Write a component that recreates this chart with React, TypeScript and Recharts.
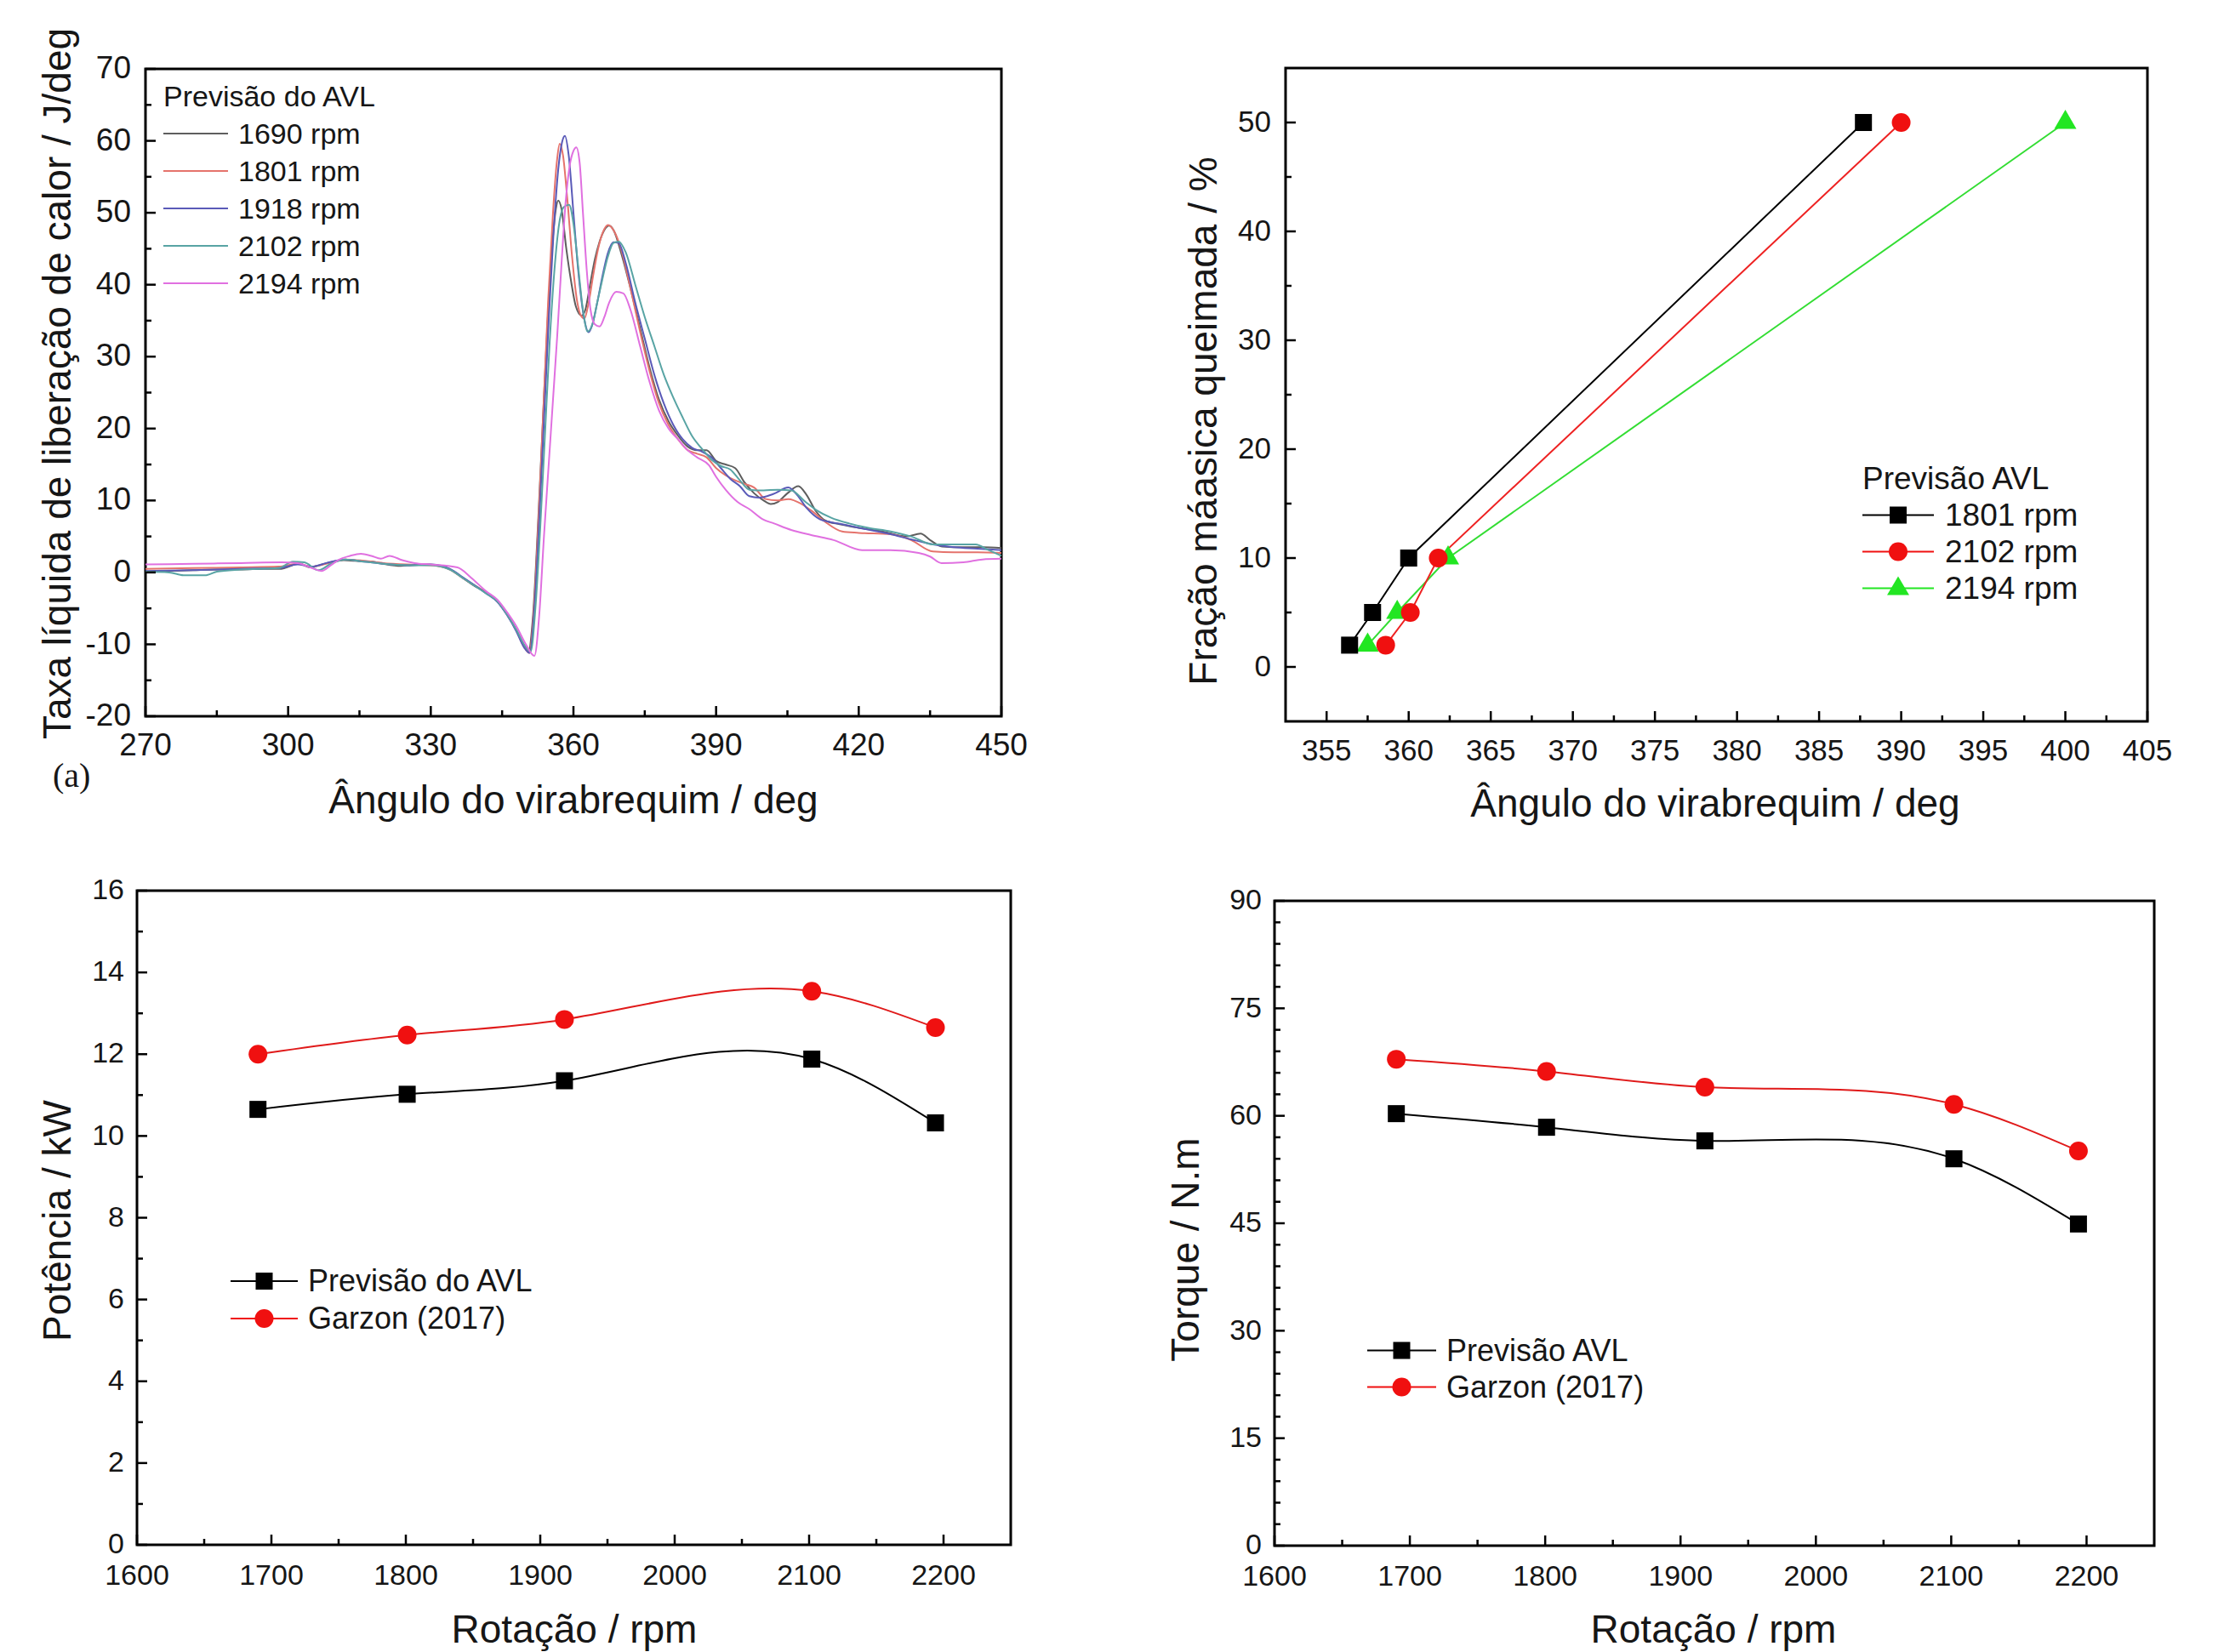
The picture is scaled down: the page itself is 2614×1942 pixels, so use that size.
import React from "react";
import { LineChart, Line, XAxis, YAxis, ReferenceArea } from "recharts";

const SANS = "'Liberation Sans', Arial, Helvetica, sans-serif";
const INK = "#161616";

// ---------- (a) heat release rate vs crank angle ----------
const angleMajors = [270, 300, 330, 360, 390, 420, 450];
const angleTicks = [270, 285, 300, 315, 330, 345, 360, 375, 390, 405, 420, 435, 450];
const hrrMajors = [-20, -10, 0, 10, 20, 30, 40, 50, 60, 70];
const hrrTicks = [-20, -15, -10, -5, 0, 5, 10, 15, 20, 25, 30, 35, 40, 45, 50, 55, 60, 65, 70];

const hrr1690 = [
  [270, 0.1], [275, 0.2], [280, 0.3], [285, 0.4], [290, 0.4], [295, 0.5], [298.6, 0.5], [300.5, 0.9],
  [302.2, 1.3], [304.6, 0.7], [306, 0.9], [308.2, 1.3], [311.7, 1.7], [314, 1.6], [317.7, 1.5], [320, 1.2],
  [323.7, 0.9], [326, 1.0], [329.6, 1.1], [333.8, 0.5], [336.8, -0.8], [339, -1.8], [341.6, -2.8], [344, -4.0],
  [346, -5.8], [348, -8.0], [349.5, -10.0], [350.5, -11.0], [351.5, -6], [352.5, 6], [353.5, 20], [354.5, 34],
  [355.5, 45], [356.3, 50.5], [356.8, 51.7], [357.5, 50.5], [358.5, 45], [359.5, 40.5], [360.5, 37], [361.7, 35.7],
  [362.5, 36.5], [363.5, 40], [364.5, 43.5], [365.5, 46], [366.5, 47.6], [367.5, 48.2], [368.5, 47.5], [370, 44.5],
  [372, 39.5], [374, 34], [376, 28.5], [378, 24], [380, 21], [382, 19], [384, 17.5], [386, 17], [388, 17],
  [390, 15.5], [392, 15], [394, 14.5], [396, 12.5], [398, 11], [400, 10], [401.5, 9.5], [403, 9.8], [405, 11],
  [407.3, 12], [409, 10.8], [411, 8.5], [413, 7.2], [416, 6.7], [420, 6.2], [425, 5.7], [430, 5.0], [433, 5.4],
  [435, 4.5], [437.5, 3.6], [442, 3.5], [446, 3.5], [450, 3.4],
];
const hrr1801 = [
  [270, 0.5], [280, 0.6], [290, 0.7], [298, 0.8], [302, 1.2], [305, 0.8], [308, 1.2], [312, 1.8], [316, 1.6],
  [320, 1.3], [325, 1.1], [330, 1.0], [334, 0.4], [337, -0.9], [341.6, -2.8], [344, -4.0], [346, -5.8], [348, -8.1],
  [349.5, -10.2], [350.7, -11.2], [351.7, -5], [352.7, 8], [353.7, 23], [354.7, 38], [355.7, 50], [356.5, 57],
  [357.1, 59.6], [357.8, 58], [358.7, 52], [359.7, 44], [360.7, 38], [361.5, 35.8], [362.3, 35.3], [363.2, 37.5],
  [364.2, 41.5], [365.2, 45], [366.2, 47.3], [367.3, 48.3], [368.5, 47.5], [370, 45], [372, 39.5], [374, 33.5],
  [376, 28], [378, 23.5], [380, 20.5], [382, 18.5], [384, 17], [386, 16.5], [388, 16], [390, 14.5], [392, 13.5],
  [394, 12.8], [396, 12.3], [398, 11.8], [400.4, 10.2], [403, 10], [405.2, 10.2], [408, 9.5], [410, 8.6], [413, 7],
  [416.5, 5.7], [420, 5.5], [426.7, 5.3], [431, 4.5], [435.6, 2.9], [440, 2.8], [445, 2.8], [450, 2.7],
];
const hrr1918 = [
  [270, 0.2], [280, 0.3], [290, 0.5], [298, 0.6], [302, 1.1], [305, 0.8], [308, 1.3], [312, 1.8], [316, 1.5],
  [320, 1.2], [325, 1.0], [330, 1.1], [334, 0.5], [337, -0.8], [341.6, -2.9], [344, -4.1], [346, -5.9], [348, -8.2],
  [349.5, -10.3], [350.8, -11.2], [351.8, -5], [352.8, 7], [353.8, 21], [354.8, 35], [355.8, 47], [356.8, 56],
  [357.6, 59.8], [358.2, 60.7], [359, 58], [360, 50], [361, 42], [362.2, 35.5], [363.2, 33.4], [364, 34.5],
  [365, 37.5], [366.2, 41.5], [367.2, 44.3], [368.4, 45.9], [369.5, 45.8], [371, 43], [373, 37.5], [375, 32.5],
  [377, 27.5], [379, 23.5], [381, 20.5], [383, 18.5], [385, 17.3], [387, 16.8], [389, 16], [391, 14.5], [393, 13],
  [395, 12], [397, 10.6], [399, 10.4], [402, 10.9], [405.2, 11.8], [407, 10.8], [409, 9], [411.8, 7.4], [414, 7],
  [416.5, 6.7], [420, 6.2], [426.7, 5.3], [431, 4.6], [435.6, 3.9], [440, 3.5], [445, 3.3], [450, 3.1],
];
const hrr2102 = [
  [270, 0.1], [275, 0], [278, -0.4], [282.5, -0.4], [285, 0.1], [290, 0.4], [298, 0.6], [301, 1.5], [303.4, 1.4],
  [306.4, 0.3], [309, 1.2], [312, 1.8], [316, 1.5], [320, 1.2], [325, 1.0], [330, 1.0], [334, 0.4], [337, -0.9],
  [341.6, -2.9], [344, -4.0], [346, -5.8], [348, -8.0], [349.8, -10.2], [351, -11], [352, -5], [353, 6], [354, 19],
  [355, 32], [356, 42], [357, 48.5], [358, 50.8], [359.1, 51.1], [360, 48.5], [361, 42.5], [362, 36.5], [363, 33.5],
  [364, 34.5], [365, 37.5], [366, 40.5], [367.2, 43.8], [368.4, 45.8], [369.5, 46], [371, 44.5], [373, 40],
  [375, 35.5], [377, 31.5], [379, 27.5], [381, 24.3], [383, 21.5], [385, 18.9], [387, 17.2], [389, 15.7],
  [391, 14.8], [393, 14.3], [395, 12.8], [397, 11.5], [400, 11.4], [403, 11.5], [405.8, 11.4], [408.8, 9.8],
  [411, 8.7], [414.2, 7.6], [418, 6.8], [422, 6.2], [426.7, 5.7], [431, 5], [435.6, 3.9], [440, 3.9], [444.6, 3.9],
  [447, 3.2], [450, 2.3],
];
const hrr2194 = [
  [270, 1.1], [280, 1.2], [290, 1.3], [298.6, 1.4], [302, 1.3], [305, 0.6], [307, 0.2], [309, 1.0], [310.5, 1.7],
  [313, 2.3], [315.3, 2.6], [317.5, 2.3], [319.5, 1.9], [321.3, 2.3], [324, 1.7], [326.6, 1.3], [330, 1.1],
  [335.6, 0.7], [338.6, -0.8], [341.6, -2.6], [344, -3.8], [346, -5.5], [348, -7.5], [350, -10], [351.8, -11.6],
  [352.8, -6], [353.8, 5], [354.8, 15], [355.7, 24], [356.6, 33], [357.5, 43], [358.3, 51], [359.2, 56.5],
  [360, 58.6], [360.6, 59.1], [361.3, 57], [362, 50], [362.8, 42], [363.6, 36.5], [364.5, 34.5], [365.5, 34.2],
  [366.5, 35.5], [367.5, 37.5], [369, 39], [370.5, 38.8], [372, 36.5], [374, 31.5], [376, 26.5], [378, 22.5],
  [380, 20], [382, 18.5], [384, 17], [386, 16], [388.5, 14.9], [390, 13.3], [392, 11.5], [394.5, 9.8], [397, 8.8],
  [399.8, 7.4], [402.2, 6.8], [405.8, 5.9], [410, 5.2], [414.7, 4.5], [420.7, 3.1], [426.7, 3.1], [432.6, 2.7],
  [435, 2.2], [437.4, 1.3], [442, 1.4], [446, 1.8], [450, 1.9],
];

const hrrSeries = [
  { name: "1690 rpm", color: "#5e5e5e", rows: hrr1690 },
  { name: "1801 rpm", color: "#e5736c", rows: hrr1801 },
  { name: "1918 rpm", color: "#5a5ab8", rows: hrr1918 },
  { name: "2102 rpm", color: "#58a4a4", rows: hrr2102 },
  { name: "2194 rpm", color: "#e070e0", rows: hrr2194 },
];

// ---------- (b) mass fraction burned ----------
const mfbAngleMajors = [355, 360, 365, 370, 375, 380, 385, 390, 395, 400, 405];
const mfbAngleTicks = [355, 357.5, 360, 362.5, 365, 367.5, 370, 372.5, 375, 377.5, 380, 382.5, 385, 387.5, 390, 392.5, 395, 397.5, 400, 402.5, 405];
const mfbMajors = [0, 10, 20, 30, 40, 50];
const mfbTicks = [0, 5, 10, 15, 20, 25, 30, 35, 40, 45, 50];

const mfbFraction = [2, 5, 10, 50];
const mfb1801 = [356.4, 357.8, 360.0, 387.7];
const mfb2102 = [358.6, 360.1, 361.8, 390.0];
const mfb2194 = [357.5, 359.3, 362.4, 400.0];

// ---------- (c), (d) power and torque vs speed ----------
const rpmMajors = [1600, 1700, 1800, 1900, 2000, 2100, 2200];
const rpmTicks = [1600, 1650, 1700, 1750, 1800, 1850, 1900, 1950, 2000, 2050, 2100, 2150, 2200];
const powerMajors = [0, 2, 4, 6, 8, 10, 12, 14, 16];
const powerTicks = [0, 1, 2, 3, 4, 5, 6, 7, 8, 9, 10, 11, 12, 13, 14, 15, 16];
const torqueMajors = [0, 15, 30, 45, 60, 75, 90];
const torqueTicks = [0, 3, 6, 9, 12, 15, 18, 21, 24, 27, 30, 33, 36, 39, 42, 45, 48, 51, 54, 57, 60, 63, 66, 69, 72, 75, 78, 81, 84, 87, 90];

const rpm = [1690, 1801, 1918, 2102, 2194];
const powerAVL = [10.65, 11.02, 11.35, 11.88, 10.32];
const powerGarzon = [12.0, 12.47, 12.85, 13.54, 12.65];
const torqueAVL = [60.3, 58.4, 56.5, 54.0, 44.9];
const torqueGarzon = [67.9, 66.2, 64.0, 61.6, 55.1];

const rowsToPts = (rows: number[][]) => rows.map(([x, y]) => ({ x, y }));
const zipPts = (xs: number[], ys: number[]) => xs.map((x, i) => ({ x, y: ys[i] }));

// natural cubic spline of y over x (Origin-style "Spline" connector), as a d3 curve factory
function xSpline(context: any) {
  let xs: number[] = [];
  let ys: number[] = [];
  return {
    areaStart() {},
    areaEnd() {},
    lineStart() {
      xs = [];
      ys = [];
    },
    point(x: number, y: number) {
      xs.push(+x);
      ys.push(+y);
    },
    lineEnd() {
      const n = xs.length;
      if (!n) return;
      context.moveTo(xs[0], ys[0]);
      if (n < 3) {
        for (let i = 1; i < n; i++) context.lineTo(xs[i], ys[i]);
        return;
      }
      const h: number[] = [];
      for (let i = 0; i < n - 1; i++) h.push(xs[i + 1] - xs[i]);
      const a: number[] = [], b: number[] = [], c: number[] = [], d: number[] = [];
      for (let i = 1; i < n - 1; i++) {
        a.push(h[i - 1]);
        b.push(2 * (h[i - 1] + h[i]));
        c.push(h[i]);
        d.push(6 * ((ys[i + 1] - ys[i]) / h[i] - (ys[i] - ys[i - 1]) / h[i - 1]));
      }
      const m = b.length;
      for (let i = 1; i < m; i++) {
        const w = a[i] / b[i - 1];
        b[i] -= w * c[i - 1];
        d[i] -= w * d[i - 1];
      }
      const sol = new Array(m).fill(0);
      sol[m - 1] = d[m - 1] / b[m - 1];
      for (let i = m - 2; i >= 0; i--) sol[i] = (d[i] - c[i] * sol[i + 1]) / b[i];
      const M = [0, ...sol, 0];
      for (let i = 0; i < n - 1; i++) {
        const hh = h[i];
        const s = (ys[i + 1] - ys[i]) / hh;
        const d0 = s - (hh * (2 * M[i] + M[i + 1])) / 6;
        const d1 = s + (hh * (M[i] + 2 * M[i + 1])) / 6;
        context.bezierCurveTo(
          xs[i] + hh / 3, ys[i] + (d0 * hh) / 3,
          xs[i + 1] - hh / 3, ys[i + 1] - (d1 * hh) / 3,
          xs[i + 1], ys[i + 1]
        );
      }
    },
  };
}

// ticks point inwards, minors shorter, labels only on majors
function xTick(majors: number[], fontSize: number, gap: number) {
  return (p: any) => {
    const v = p.payload.value;
    const major = majors.includes(v);
    return (
      <g>
        <line x1={p.x} x2={p.x} y1={p.y} y2={p.y - (major ? 12 : 7)} stroke="#000" strokeWidth={2.5} />
        {major && (
          <text x={p.x} y={p.y + gap} textAnchor="middle" fontSize={fontSize} fontFamily={SANS} fill={INK}>
            {v}
          </text>
        )}
      </g>
    );
  };
}

function yTick(majors: number[], fontSize: number, gap: number) {
  return (p: any) => {
    const v = p.payload.value;
    const major = majors.includes(v);
    return (
      <g>
        <line x1={p.x} x2={p.x + (major ? 12 : 7)} y1={p.y} y2={p.y} stroke="#000" strokeWidth={2.5} />
        {major && (
          <text x={p.x - gap} y={p.y} dy="0.3em" textAnchor="end" fontSize={fontSize} fontFamily={SANS} fill={INK}>
            {v}
          </text>
        )}
      </g>
    );
  };
}

const squareDot = (size: number, color: string) => (p: any) => (
  <rect key={`s${p.index}`} x={p.cx - size / 2} y={p.cy - size / 2} width={size} height={size} fill={color} />
);
const circleDot = (r: number, color: string) => (p: any) => (
  <circle key={`c${p.index}`} cx={p.cx} cy={p.cy} r={r} fill={color} />
);
const triangleDot = (s: number, color: string) => (p: any) => {
  const h = (s * Math.sqrt(3)) / 2;
  return (
    <path
      key={`t${p.index}`}
      d={`M${p.cx},${p.cy - (2 * h) / 3} L${p.cx + s / 2},${p.cy + h / 3} L${p.cx - s / 2},${p.cy + h / 3} Z`}
      fill={color}
    />
  );
};

function Marker({ kind, color, x, y }: { kind: string; color: string; x: number; y: number }) {
  if (kind === "square") return <rect x={x - 10} y={y - 10} width={20} height={20} fill={color} />;
  if (kind === "circle") return <circle cx={x} cy={y} r={11} fill={color} />;
  if (kind === "triangle") return <path d={`M${x},${y - 14} L${x + 13},${y + 8} L${x - 13},${y + 8} Z`} fill={color} />;
  return null;
}

type LegendItem = { label: string; color: string; marker?: string };

function LegendBlock(props: {
  left: number; firstY: number; rowH: number; lineW: number; textGap: number; fontSize: number;
  title?: string; items: LegendItem[];
}) {
  const { left, firstY, rowH, lineW, textGap, fontSize, title, items } = props;
  const rows: React.ReactNode[] = [];
  let i = 0;
  if (title) {
    rows.push(
      <div key="title" style={{ position: "absolute", left, top: firstY - rowH / 2, height: rowH, lineHeight: `${rowH}px`, fontSize, color: INK, whiteSpace: "nowrap" }}>
        {title}
      </div>
    );
    i = 1;
  }
  items.forEach((it, k) => {
    const cy = firstY + (i + k) * rowH;
    rows.push(
      <div key={it.label} style={{ position: "absolute", left, top: cy - rowH / 2, height: rowH, display: "flex", alignItems: "center", whiteSpace: "nowrap" }}>
        <svg width={lineW} height={rowH} style={{ display: "block" }}>
          <line x1={0} x2={lineW} y1={rowH / 2} y2={rowH / 2} stroke={it.color} strokeWidth={2} />
          {it.marker && <Marker kind={it.marker} color={it.color} x={lineW / 2} y={rowH / 2} />}
        </svg>
        <span style={{ marginLeft: textGap, fontSize, lineHeight: `${rowH}px`, color: INK }}>{it.label}</span>
      </div>
    );
  });
  return <>{rows}</>;
}

function Title({ text, x, y, rotate, size = 46 }: { text: string; x: number; y: number; rotate?: boolean; size?: number }) {
  return (
    <div
      style={{
        position: "absolute", left: x, top: y, fontSize: size, color: INK, whiteSpace: "nowrap", lineHeight: 1,
        transform: `translate(-50%, -50%)${rotate ? " rotate(-90deg)" : ""}`,
      }}
    >
      {text}
    </div>
  );
}

const frameProps = { fill: "none", stroke: "#000", strokeWidth: 3, fillOpacity: 1 };

export default function App() {
  return (
    <div style={{ position: "relative", width: 2614, height: 1942, background: "#fff", fontFamily: SANS, overflow: "hidden" }}>
      <style>{"body{margin:0;background:#fff}"}</style>

      {/* (a) */}
      <div style={{ position: "absolute", left: 0, top: 0 }}>
        <LineChart width={1260} height={900} margin={{ top: 81, right: 83, bottom: 8, left: 71 }}>
          <XAxis type="number" dataKey="x" domain={[270, 450]} ticks={angleTicks} interval={0} height={50}
            axisLine={false} tickLine={false} tickSize={0} tickMargin={0} tick={xTick(angleMajors, 37, 46)} />
          <YAxis type="number" dataKey="y" domain={[-20, 70]} ticks={hrrTicks} interval={0} width={100}
            axisLine={false} tickLine={false} tickSize={0} tickMargin={0} tick={yTick(hrrMajors, 37, 17)} />
          <ReferenceArea x1={270} x2={450} y1={-20} y2={70} {...frameProps} />
          {hrrSeries.map((s) => (
            <Line key={s.name} data={rowsToPts(s.rows)} dataKey="y" type="monotone" stroke={s.color}
              strokeWidth={2} dot={false} isAnimationActive={false} />
          ))}
        </LineChart>
      </div>
      <LegendBlock left={192} firstY={113} rowH={44} lineW={76} textGap={12} fontSize={34}
        title="Previsão do AVL" items={hrrSeries.map((s) => ({ label: s.name, color: s.color }))} />
      <Title text="Ângulo do virabrequim / deg" x={674} y={940} />
      <Title text="Taxa líquida de liberação de calor / J/deg" x={67} y={451} rotate />
      <div style={{ position: "absolute", left: 62, top: 892, fontFamily: "'Liberation Serif', 'Times New Roman', serif", fontSize: 40, color: INK, lineHeight: 1 }}>
        (a)
      </div>

      {/* (b) */}
      <div style={{ position: "absolute", left: 1300, top: 0 }}>
        <LineChart width={1314} height={900} margin={{ top: 80, right: 90, bottom: 2, left: 111 }}>
          <XAxis type="number" dataKey="x" domain={[352.5, 405]} ticks={mfbAngleTicks} interval={0} height={50}
            axisLine={false} tickLine={false} tickSize={0} tickMargin={0} tick={xTick(mfbAngleMajors, 35, 46)} />
          <YAxis type="number" dataKey="y" domain={[-5, 55]} ticks={mfbTicks} interval={0} width={100}
            axisLine={false} tickLine={false} tickSize={0} tickMargin={0} tick={yTick(mfbMajors, 35, 17)} />
          <ReferenceArea x1={352.5} x2={405} y1={-5} y2={55} {...frameProps} />
          <Line data={zipPts(mfb2194, mfbFraction)} dataKey="y" type="linear" stroke="#33dd33" strokeWidth={2}
            dot={triangleDot(26, "#22e622")} isAnimationActive={false} />
          <Line data={zipPts(mfb2102, mfbFraction)} dataKey="y" type="linear" stroke="#ee2222" strokeWidth={2}
            dot={circleDot(11, "#f01010")} isAnimationActive={false} />
          <Line data={zipPts(mfb1801, mfbFraction)} dataKey="y" type="linear" stroke="#000" strokeWidth={2}
            dot={squareDot(20, "#000")} isAnimationActive={false} />
        </LineChart>
      </div>
      <LegendBlock left={2189} firstY={562} rowH={43} lineW={84} textGap={13} fontSize={37}
        title="Previsão AVL"
        items={[
          { label: "1801 rpm", color: "#000", marker: "square" },
          { label: "2102 rpm", color: "#f01010", marker: "circle" },
          { label: "2194 rpm", color: "#22e622", marker: "triangle" },
        ]} />
      <Title text="Ângulo do virabrequim / deg" x={2016} y={944} />
      <Title text="Fração máasica queimada / %" x={1414} y={495} rotate />

      {/* (c) */}
      <div style={{ position: "absolute", left: 0, top: 980 }}>
        <LineChart width={1300} height={900} margin={{ top: 67, right: 112, bottom: 14, left: 61 }}>
          <XAxis type="number" dataKey="x" domain={[1600, 2250]} ticks={rpmTicks} interval={0} height={50}
            axisLine={false} tickLine={false} tickSize={0} tickMargin={0} tick={xTick(rpmMajors, 34, 47)} />
          <YAxis type="number" dataKey="y" domain={[0, 16]} ticks={powerTicks} interval={0} width={100}
            axisLine={false} tickLine={false} tickSize={0} tickMargin={0} tick={yTick(powerMajors, 34, 15)} />
          <ReferenceArea x1={1600} x2={2250} y1={0} y2={16} {...frameProps} />
          <Line data={zipPts(rpm, powerGarzon)} dataKey="y" type={xSpline as any} stroke="#e01a1a" strokeWidth={2}
            dot={circleDot(11, "#f01010")} isAnimationActive={false} />
          <Line data={zipPts(rpm, powerAVL)} dataKey="y" type={xSpline as any} stroke="#000" strokeWidth={2}
            dot={squareDot(20, "#000")} isAnimationActive={false} />
        </LineChart>
      </div>
      <LegendBlock left={271} firstY={1506} rowH={44} lineW={79} textGap={12} fontSize={36}
        items={[
          { label: "Previsão do AVL", color: "#000", marker: "square" },
          { label: "Garzon (2017)", color: "#f01010", marker: "circle" },
        ]} />
      <Title text="Rotação / rpm" x={675} y={1915} />
      <Title text="Potência / kW" x={67} y={1435} rotate />

      {/* (d) */}
      <div style={{ position: "absolute", left: 1300, top: 980 }}>
        <LineChart width={1314} height={900} margin={{ top: 79, right: 82, bottom: 13, left: 98 }}>
          <XAxis type="number" dataKey="x" domain={[1600, 2250]} ticks={rpmTicks} interval={0} height={50}
            axisLine={false} tickLine={false} tickSize={0} tickMargin={0} tick={xTick(rpmMajors, 34, 47)} />
          <YAxis type="number" dataKey="y" domain={[0, 90]} ticks={torqueTicks} interval={0} width={100}
            axisLine={false} tickLine={false} tickSize={0} tickMargin={0} tick={yTick(torqueMajors, 34, 15)} />
          <ReferenceArea x1={1600} x2={2250} y1={0} y2={90} {...frameProps} />
          <Line data={zipPts(rpm, torqueGarzon)} dataKey="y" type={xSpline as any} stroke="#e01a1a" strokeWidth={2}
            dot={circleDot(11, "#f01010")} isAnimationActive={false} />
          <Line data={zipPts(rpm, torqueAVL)} dataKey="y" type={xSpline as any} stroke="#000" strokeWidth={2}
            dot={squareDot(20, "#000")} isAnimationActive={false} />
        </LineChart>
      </div>
      <LegendBlock left={1607} firstY={1587} rowH={43} lineW={81} textGap={12} fontSize={36}
        items={[
          { label: "Previsão AVL", color: "#000", marker: "square" },
          { label: "Garzon (2017)", color: "#f01010", marker: "circle" },
        ]} />
      <Title text="Rotação / rpm" x={2014} y={1915} />
      <Title text="Torque / N.m" x={1393} y={1469} rotate />
    </div>
  );
}
